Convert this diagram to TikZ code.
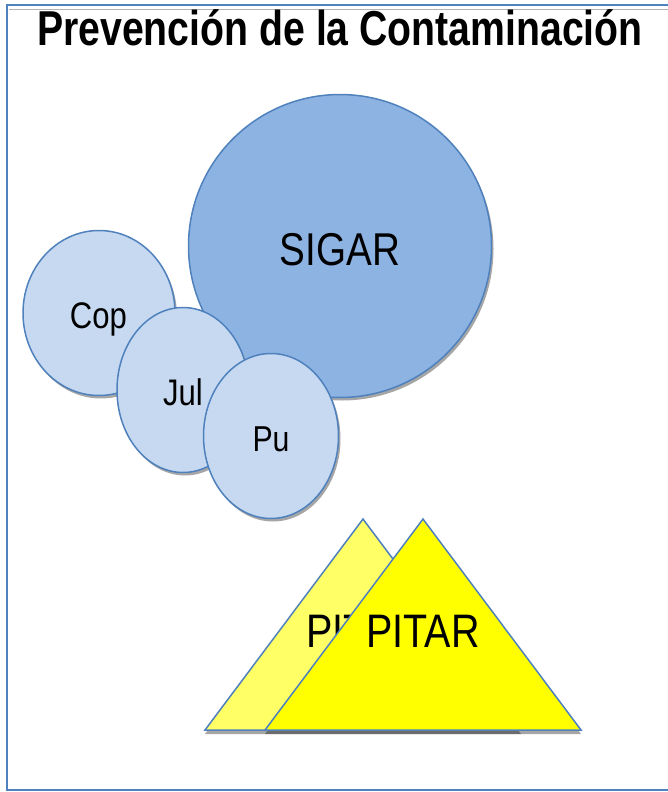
\documentclass[tikz,border=0pt]{standalone}
\usepackage{fontspec}
\usetikzlibrary{shapes.geometric}
\newfontfamily\narrowsans[FakeStretch=0.84]{Liberation Sans}
\newfontfamily\titlesans[FakeStretch=0.80]{Liberation Sans}
\definecolor{frameblue}{HTML}{4F81BD}
\definecolor{bigfill}{HTML}{8DB3E2}
\definecolor{smallfill}{HTML}{C6D9F1}
\definecolor{paleyellow}{HTML}{FFFF66}
\definecolor{brightyellow}{HTML}{FFFF00}
\tikzset{
  bubble/.style={ellipse, draw=frameblue, line width=1.5pt, inner sep=0pt},
  bubbleshadow/.style={ellipse, fill=black!35, draw=none, inner sep=0pt},
  pyramid/.style={draw=frameblue, line width=1.5pt, line join=miter},
  pyramidshadow/.style={fill=black, fill opacity=0.35, draw=none},
  label/.style={font=\narrowsans, text=black, anchor=base, inner sep=0pt}
}
\begin{document}
\begin{tikzpicture}[x=1pt,y=-1pt]
  \useasboundingbox (0,0) rectangle (668,792);
  \fill[white] (0,0) rectangle (668,792);

  % page frame
  \draw[black!30, line width=1pt] (9,10) -- (668,10);
  \draw[frameblue, line width=2pt] (668,5) -- (7,5) -- (7,790) -- (668,790);

  % title
  \node[font=\titlesans\bfseries\fontsize{49}{49}\selectfont, anchor=base, inner sep=0pt]
    (title) at (340,46) {Prevención de la Contaminación};

  % large circle
  \node[bubbleshadow, minimum width=303pt, minimum height=303pt] (sigarsh) at (342,249) {};
  \node[bubble, fill=bigfill, minimum width=303pt, minimum height=303pt] (sigar) at (340,246) {};
  \node[label, font=\narrowsans\fontsize{46}{46}\selectfont] (sigartxt) at (340,265) {SIGAR};

  % small ellipses
  \node[bubbleshadow, minimum width=152pt, minimum height=165pt] (copsh) at (101,316) {};
  \node[bubble, fill=smallfill, minimum width=152pt, minimum height=165pt] (cop) at (99,313) {};
  \node[label, font=\narrowsans\fontsize{37}{37}\selectfont] (coptxt) at (98.5,328) {Cop};

  \node[bubbleshadow, minimum width=132pt, minimum height=165pt] (julsh) at (185,393) {};
  \node[bubble, fill=smallfill, minimum width=132pt, minimum height=165pt] (jul) at (183,390) {};
  \node[label, font=\narrowsans\fontsize{37}{37}\selectfont] (jultxt) at (183,405) {Jul};

  \node[bubbleshadow, minimum width=135pt, minimum height=165pt] (push) at (273,439) {};
  \node[bubble, fill=smallfill, minimum width=135pt, minimum height=165pt] (pu) at (271,436) {};
  \node[label, font=\narrowsans\fontsize{36}{36}\selectfont] (putxt) at (271,451) {Pu};

  % triangles
  \coordinate (lapex) at (363,519);
  \coordinate (lleft) at (205,730);
  \coordinate (lright) at (521,730);
  \coordinate (rapex) at (423,519);
  \coordinate (rleft) at (265,730);
  \coordinate (rright) at (581,730);

  \fill[pyramidshadow] ([yshift=-4pt]lapex) -- ([yshift=-4pt]lleft) -- ([yshift=-4pt]lright) -- cycle;
  \filldraw[pyramid, fill=paleyellow] (lapex) -- (lleft) -- (lright) -- cycle;
  \node[label, font=\narrowsans\fontsize{47}{47}\selectfont] (ltxt) at (363,647) {PITAR};

  \fill[pyramidshadow] ([yshift=-4pt]rapex) -- ([yshift=-4pt]rleft) -- ([yshift=-4pt]rright) -- cycle;
  \filldraw[pyramid, fill=brightyellow] (rapex) -- (rleft) -- (rright) -- cycle;
  \node[label, font=\narrowsans\fontsize{47}{47}\selectfont] (rtxt) at (423,647) {PITAR};
\end{tikzpicture}
\end{document}
